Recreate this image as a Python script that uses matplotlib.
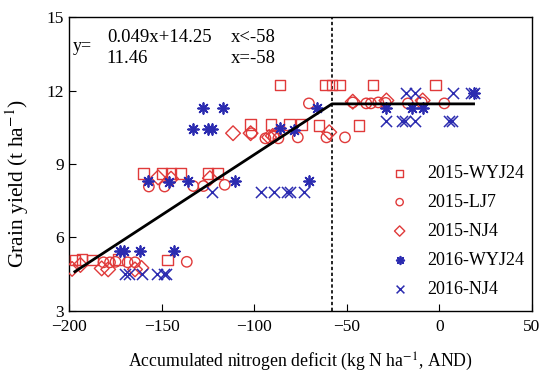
import matplotlib
matplotlib.use("Agg")
import matplotlib.pyplot as plt
import numpy as np

plt.rcParams['font.family'] = ['Liberation Serif', 'DejaVu Serif']
plt.rcParams['mathtext.fontset'] = 'stix'

# 2015-WYJ24 (squares)
wyj15_x = [-197, -193, -187.5, -173.5, -147,
           -160, -150, -145, -140, -125, -120,
           -102, -91, -81, -74.5, -65, -43.5,
           -86, -61.5, -58, -54, -36, -2]
wyj15_y = [5.07, 5.10, 5.07, 5.10, 5.07,
           8.62, 8.62, 8.62, 8.62, 8.62, 8.62,
           10.62, 10.62, 10.62, 10.62, 10.58, 10.58,
           12.23, 12.23, 12.23, 12.23, 12.23, 12.23]

# 2015-LJ7 (circles)
lj7_x = [-181.5, -178, -175, -168.5, -164.5, -136.5,
         -157, -148.5, -133, -127.5, -116,
         -101.5, -94, -89.5, -87, -76.5, -61, -51,
         -70.5, -46.8, -39.5, -37, -33, -29, -17, -9.5, 2.7]
lj7_y = [4.98, 4.98, 5.0, 4.98, 4.98, 5.0,
         8.08, 8.08, 8.1, 8.1, 8.15,
         10.26, 10.05, 10.12, 10.05, 10.09, 10.09, 10.09,
         11.48, 11.52, 11.48, 11.48, 11.52, 11.5, 11.48, 11.52, 11.48]

# 2015-NJ4 (diamonds)
nj415_x = [-198.5, -194, -182.5, -179, -164.5, -161,
           -152, -145, -124,
           -111.5, -102, -92, -90, -59.5,
           -46.8, -28.6, -9]
nj415_y = [4.71, 4.87, 4.73, 4.69, 4.69, 4.75,
           8.45, 8.40, 8.42,
           10.26, 10.26, 10.10, 10.15, 10.30,
           11.55, 11.60, 11.60]

# 2016-WYJ24 (asterisks)
wyj16_x = [-172.6, -170.5, -162, -143.6,
           -157.3, -146, -136, -110.4, -70.5,
           -133, -124.9, -123,
           -127.5, -117,
           -86.3, -78.5, -66.2,
           -28.8, -14.9, -8.9, 18.8]
wyj16_y = [5.45, 5.45, 5.45, 5.45,
           8.32, 8.28, 8.32, 8.30, 8.30,
           10.42, 10.42, 10.42,
           11.28, 11.28,
           10.46, 10.39, 11.28,
           11.28, 11.28, 11.28, 11.92]

# 2016-NJ4 (crosses)
nj416_x = [-169.8, -168, -160.8, -152.7, -148.8, -147.5,
           -122.8, -96.5, -89.3, -82.4, -80.8, -73,
           -18, -13, 7.3, 17.2, 19,
           -28.8, -20, -18.4, -13.2, 5, 6.8]
nj416_y = [4.52, 4.52, 4.52, 4.52, 4.52, 4.52,
           7.87, 7.87, 7.87, 7.87, 7.87, 7.87,
           11.92, 11.92, 11.92, 11.92, 11.92,
           10.75, 10.75, 10.75, 10.75, 10.75, 10.75]

# piecewise fit
fit_x = [-197, -58, 18.5]
fit_slope, fit_icpt, fit_plateau, fit_break = 0.049, 14.25, 11.46, -58

red = '#e03a3a'
blue = '#2b2bb0'

fig = plt.figure(figsize=(5.5, 3.81), dpi=100)
ax = fig.add_axes([0.126, 0.1845, 0.841, 0.770])

ms = 56
ax.scatter(wyj15_x, wyj15_y, s=ms, marker='s', facecolors='none', edgecolors=red, linewidths=1.0, label='2015-WYJ24', zorder=3)
ax.scatter(lj7_x, lj7_y, s=ms, marker='o', facecolors='none', edgecolors=red, linewidths=1.0, label='2015-LJ7', zorder=3)
ax.scatter(nj415_x, nj415_y, s=ms, marker='D', facecolors='none', edgecolors=red, linewidths=1.0, label='2015-NJ4', zorder=3)
ax.scatter(wyj16_x, wyj16_y, s=60, marker=(8, 2, 0), color=blue, linewidths=1.3, label='2016-WYJ24', zorder=3)
ax.scatter(nj416_x, nj416_y, s=64, marker='x', color=blue, linewidths=1.1, label='2016-NJ4', zorder=3)

fy = [fit_slope * fit_x[0] + fit_icpt, fit_plateau, fit_plateau]
ax.plot(fit_x, fy, color='black', lw=2, zorder=4)
ax.axvline(fit_break, color='black', ls=(0, (2, 1.5)), lw=1.2, zorder=2)

ax.set_xlim(-200, 50)
ax.set_ylim(3, 15)
ax.set_xticks([-200, -150, -100, -50, 0, 50])
ax.set_yticks([3, 6, 9, 12, 15])
ax.tick_params(direction='in', length=5, labelsize=12.5, top=False, right=False)
ax.tick_params(axis='x', pad=6)
ax.tick_params(axis='y', pad=4)
for s in ax.spines.values():
    s.set_linewidth(1.0)

ax.set_xlabel('Accumulated nitrogen deficit (kg N ha$^{-1}$, AND)', fontsize=12.8, labelpad=11)
ax.set_ylabel('Grain yield (t ha$^{-1}$)', fontsize=15.5)
ax.yaxis.set_label_coords(-0.083, 0.435)

ax.text(0.008, 0.885, 'y=', transform=ax.transAxes, fontsize=13)
ax.text(0.081, 0.915, '0.049x+14.25', transform=ax.transAxes, fontsize=13.5)
ax.text(0.081, 0.845, '11.46', transform=ax.transAxes, fontsize=13.5)
ax.text(0.35, 0.915, 'x<-58', transform=ax.transAxes, fontsize=13.5)
ax.text(0.35, 0.845, 'x=-58', transform=ax.transAxes, fontsize=13.5)

leg = ax.legend(loc='lower right', bbox_to_anchor=(1.0, 0.02), frameon=False, fontsize=13,
                markerscale=0.7, handletextpad=0.55, labelspacing=0.66, borderaxespad=0.0,
                borderpad=0.4)

fig.savefig('out.png', dpi=100)
